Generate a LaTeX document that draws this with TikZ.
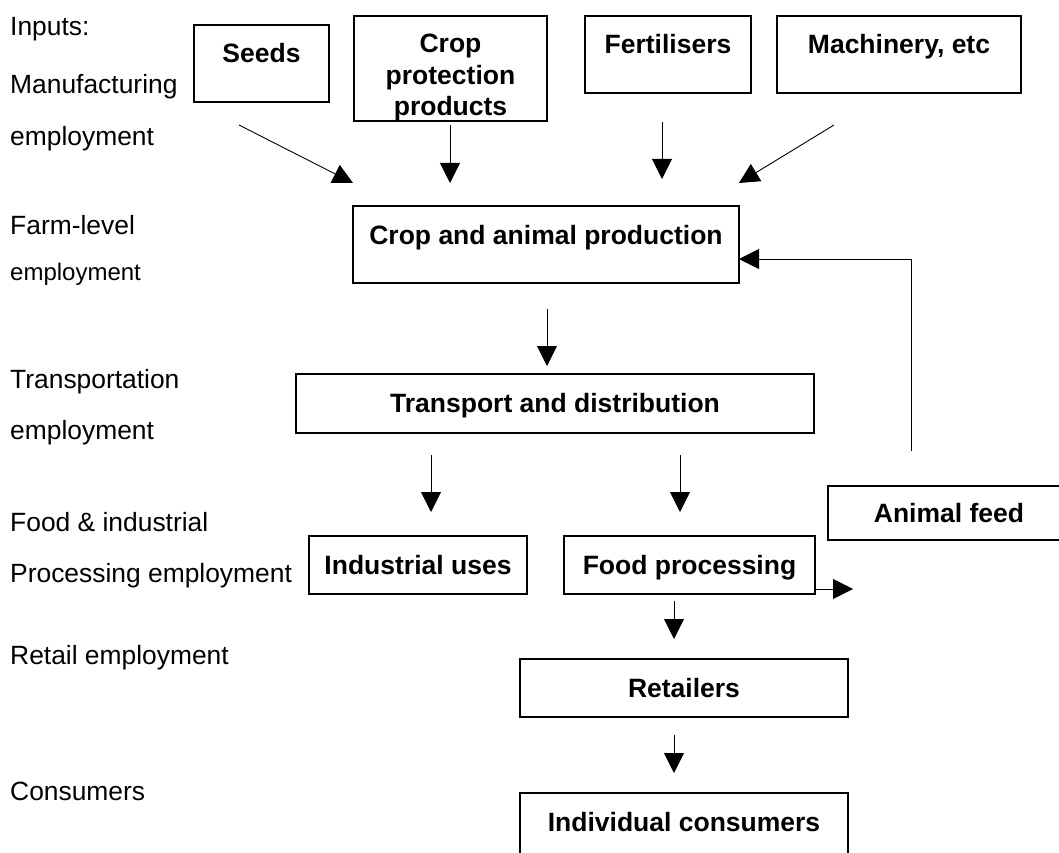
\documentclass[tikz,border=0pt]{standalone}
\usepackage{fontspec}
\setmainfont{Liberation Sans}
\usetikzlibrary{arrows.meta, positioning}

\begin{document}
\begin{tikzpicture}[x=1pt, y=-1pt, >={Triangle[length=20pt, width=20pt]}]
	\tikzset{%
		box/.style={rectangle, draw=black, line width=2pt, inner sep=0pt, outer sep=0pt, anchor=north west, align=center, font=\fontsize{26.5}{31.5}\selectfont\bfseries},
		lbl/.style={anchor=base west, inner sep=0pt, font=\fontsize{26.4}{31}\selectfont},
		flow/.style={->, draw=black, line width=0.9pt}
	}
	\useasboundingbox (0,0) rectangle (1059,853);
	\clip (0,0) rectangle (1059,853);

	% employment levels
	\node[lbl] (lin1) at (10,36) {Inputs:};
	\node[lbl] (lin2) at (10,94) {Manufacturing};
	\node[lbl] (lin3) at (10,146) {employment};
	\node[lbl] (lfarm1) at (10,234) {Farm-level};
	\node[lbl, font=\fontsize{24}{28}\selectfont] (lfarm2) at (10,280) {employment};
	\node[lbl] (ltr1) at (10,388) {Transportation};
	\node[lbl] (ltr2) at (10,439) {employment};
	\node[lbl] (lproc1) at (10,531) {Food \& industrial};
	\node[lbl] (lproc2) at (10,582) {Processing employment};
	\node[lbl] (lret) at (10,664) {Retail employment};
	\node[lbl] (lcons) at (10,800) {Consumers};

	% inputs
	\node[box, minimum width=135pt, text height=37.5pt, text depth=39.5pt] (seeds) at (194,25) {Seeds};
	\node[box, minimum width=193pt, text height=100pt, text depth=5pt] (protect) at (354,16) {Crop\\protection\\products};
	\node[box, minimum width=166pt, text height=37.8pt, text depth=39.2pt] (fert) at (585,16) {Fertilisers};
	\node[box, minimum width=244pt, text height=37.8pt, text depth=39.2pt] (mach) at (777,16) {Machinery, etc};

	% chain
	\node[box, minimum width=386pt, text height=38.5pt, text depth=38.5pt] (farm) at (353,206) {Crop and animal production};
	\node[box, minimum width=518pt, text height=38.5pt, text depth=20.5pt] (trans) at (296,374) {Transport and distribution};
	\node[box, minimum width=218pt, text height=38.5pt, text depth=19.5pt] (indus) at (309,536) {Industrial uses};
	\node[box, minimum width=251pt, text height=38.5pt, text depth=19.5pt] (food) at (564,536) {Food processing};
	\node[box, minimum width=242pt, text height=36.5pt, text depth=17.5pt] (feed) at (828,486) {Animal feed};
	\node[box, minimum width=328pt, text height=38.5pt, text depth=19.5pt] (retail) at (520,659) {Retailers};
	\node[box, minimum width=328pt, text height=38.5pt, text depth=25pt] (cons) at (520,793) {Individual consumers};

	% free arrows
	\coordinate (s1) at (239,125); \coordinate (s2) at (353,183);
	\coordinate (p1) at (450,125); \coordinate (p2) at (450,183);
	\coordinate (f1) at (662,122); \coordinate (f2) at (662,179);
	\coordinate (m1) at (834,125); \coordinate (m2) at (739,183);
	\coordinate (c1) at (547,309); \coordinate (c2) at (547,366);
	\coordinate (t1) at (431,455); \coordinate (t2) at (431,512);
	\coordinate (t3) at (680,455); \coordinate (t4) at (680,512);
	\coordinate (r1) at (674,601); \coordinate (r2) at (674,639);
	\coordinate (r3) at (674,735); \coordinate (r4) at (674,773);
	\coordinate (fb) at (911,451);

	\draw[flow] (s1) -- (s2);
	\draw[flow] (p1) -- (p2);
	\draw[flow] (f1) -- (f2);
	\draw[flow] (m1) -- (m2);
	\draw[flow] (c1) -- (c2);
	\draw[flow] (t1) -- (t2);
	\draw[flow] (t3) -- (t4);
	\draw[flow] (r1) -- (r2);
	\draw[flow] (r3) -- (r4);
	\draw[flow] (fb) |- ([yshift=-14.5pt]farm.east);
	\draw[flow] ([yshift=-24pt]food.east) -- ++(38,0);
\end{tikzpicture}
\end{document}
